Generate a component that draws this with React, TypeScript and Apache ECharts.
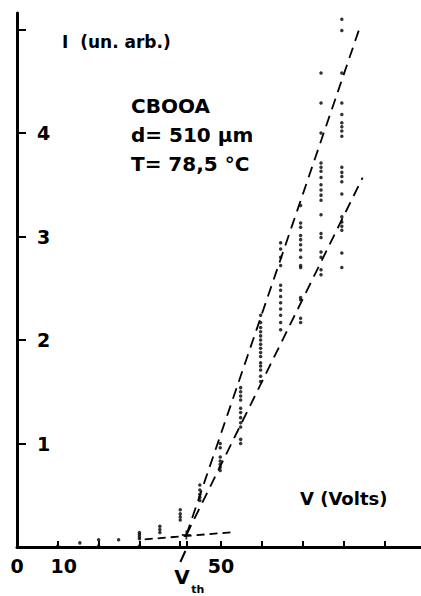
import React, { useEffect, useRef } from "react";
import * as echarts from "echarts";

// Measured data: voltage columns (V) and current readings (arb. units) in each column
const voltages = [10, 15.4, 20, 24.9, 30, 35, 40, 44.8, 49.8, 54.8, 59.7, 64.6, 69.5, 74.5, 79.6];
const currents: number[][] = [
  [0.01],
  [0.04],
  [0.01, 0.07],
  [0.07],
  [0.01, 0.08, 0.1, 0.12, 0.14],
  [0.14, 0.17, 0.2],
  [0.26, 0.29, 0.32, 0.36],
  [0.45, 0.48, 0.51, 0.55, 0.6],
  [0.74, 0.77, 0.8, 0.83, 0.87, 0.96, 1.0],
  [1.0, 1.04, 1.16, 1.2, 1.25, 1.3, 1.34, 1.42, 1.46, 1.5, 1.54],
  [1.6, 1.65, 1.71, 1.75, 1.78, 1.84, 1.88, 1.92, 1.96, 2.0, 2.04, 2.08, 2.12, 2.17, 2.24],
  [2.1, 2.17, 2.24, 2.3, 2.36, 2.42, 2.48, 2.53, 2.72, 2.8, 2.88, 2.94],
  [2.17, 2.21, 2.39, 2.41, 2.7, 2.72, 2.8, 2.87, 2.92, 2.97, 3.01, 3.09, 3.13, 3.3],
  [2.63, 2.68, 2.8, 2.85, 2.99, 3.03, 3.21, 3.35, 3.4, 3.45, 3.5, 3.57, 3.63, 3.67, 3.71, 4.0, 4.29, 4.58],
  [2.7, 2.84, 3.06, 3.1, 3.14, 3.19, 3.41, 3.53, 3.58, 3.62, 3.67, 3.97, 4.02, 4.06, 4.1, 4.18, 4.29, 4.58, 4.99, 5.1],
];

// Fitted dashed lines (endpoints)
const fitSteep = [[41.5, 0.116], [84, 5.02]];
const fitShallow = [[41.5, 0.116], [84.7, 3.57]];
const fitBase = [[31.3, 0.074], [52.6, 0.142]];

// Threshold voltage
const vth = 41.5;
const vthCurrent = 0.116;

// Axis ticks & labels
const xTicks = [10, 20, 30, 40, 50, 60, 70, 80, 90, vth];
const xLabels = [0, 10, 50];
const yTicks = [0, 1, 2, 3, 4, 5];
const yLabels = [1, 2, 3, 4];

const FONT = "DejaVu Sans";

export default function App() {
  const ref = useRef<HTMLDivElement>(null);
  useEffect(() => {
    const el = ref.current!;
    const chart = echarts.init(el, null, { renderer: "svg" });
    const points = voltages.flatMap((v, i) => currents[i].map((c) => [v, c]));
    const dash = (data: number[][], pattern: number[]) => ({
      type: "line",
      data,
      symbol: "none",
      silent: true,
      clip: false,
      lineStyle: { color: "#000", width: 1.8, type: pattern },
    });
    chart.setOption({
      animation: false,
      backgroundColor: "#fff",
      grid: { left: 17, right: 0, top: 13, bottom: 49, containLabel: false, outerBoundsMode: "none" },
      xAxis: {
        type: "value",
        min: 0,
        max: 99,
        interval: 10,
        splitLine: { show: false },
        axisLine: { lineStyle: { color: "#000", width: 3 } },
        axisTick: { inside: true, length: 6, customValues: xTicks, lineStyle: { color: "#000", width: 2 } },
        axisLabel: {
          customValues: xLabels,
          margin: 9,
          color: "#000",
          fontFamily: FONT,
          fontWeight: "bold",
          fontSize: 19,
          formatter: (v: number) => (v === 10 ? "{p|10}" : String(v)),
          rich: { p: { padding: [0, 0, 0, 12], fontFamily: FONT, fontWeight: "bold", fontSize: 19, color: "#000" } },
        },
      },
      yAxis: {
        type: "value",
        min: 0,
        max: 5.16,
        interval: 1,
        splitLine: { show: false },
        axisLine: { lineStyle: { color: "#000", width: 3 } },
        axisTick: { inside: true, length: 9, customValues: yTicks, lineStyle: { color: "#000", width: 2 } },
        axisLabel: {
          inside: true,
          customValues: yLabels,
          margin: 20,
          color: "#000",
          fontFamily: FONT,
          fontWeight: "bold",
          fontSize: 19,
        },
      },
      series: [
        {
          type: "scatter",
          data: points,
          symbol: "circle",
          symbolSize: 3.5,
          itemStyle: { color: "#000" },
          silent: true,
        },
        dash(fitSteep, [11, 7]),
        dash(fitShallow, [11, 7]),
        dash(fitBase, [8, 5]),
        {
          type: "scatter",
          data: [[vth, vthCurrent]],
          symbol: "path://M0,4L10,4L10,6L0,6Z M4,0L6,0L6,10L4,10Z",
          symbolSize: 9,
          itemStyle: { color: "#000" },
          silent: true,
        },
      ],
    });
    const [vx, vy] = chart.convertToPixel({ gridIndex: 0 }, [vth, 0]) as number[];
    const txt = (text: string, x: number, y: number, size: number, align = "left", vAlign = "middle") => ({
      type: "text",
      x,
      y,
      silent: true,
      style: { text, fill: "#000", font: `bold ${size}px "${FONT}"`, textAlign: align, textVerticalAlign: vAlign },
    });
    chart.setOption({
      graphic: [
        txt("I  (un. arb.)", 62, 42, 17),
        txt("CBOOA", 131, 106, 20),
        txt("d= 510 µm", 131, 135, 20),
        txt("T= 78,5 °C", 131, 164, 20),
        txt("V (Volts)", 300, 498, 18),
        {
          type: "line",
          silent: true,
          shape: { x1: vx - 1, y1: vy + 4, x2: vx - 6, y2: vy + 15 },
          style: { stroke: "#000", lineWidth: 2 },
        },
        txt("V", vx - 12, vy + 30, 20),
        txt("th", vx + 5, vy + 42, 11),
      ],
    });
    return () => chart.dispose();
  }, []);
  return (
    <div
      ref={ref}
      style={{ position: "fixed", left: 0, top: 0, width: 421, height: 596, background: "#fff" }}
    />
  );
}
